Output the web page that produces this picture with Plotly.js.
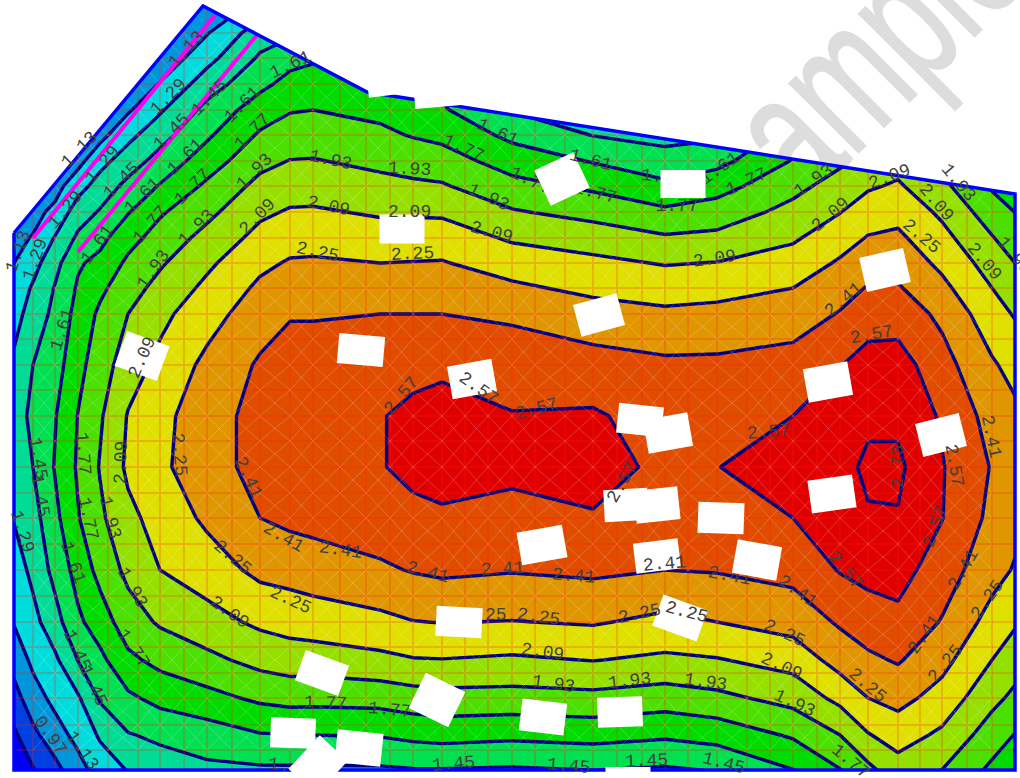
<!DOCTYPE html>
<html>
<head>
<meta charset="utf-8">
<script src="https://cdn.plot.ly/plotly-3.0.1.min.js"></script>
<style>html,body{margin:0;padding:0;background:#fff}#chart{width:1020px;height:778px}</style>
</head>
<body>
<div id="chart"></div>
<script>
// Grid of the field: position of each column and row of the sampled values
var gridX = [14,33,55,78,100,128,160,207,260,290,313,380,413,442,512,593,665,717,793,840,868,898,942,992,1020];
var gridY = [0,33,58,84,110,135,161,186,212,238,263,288,314,365,416,467,518,570,622,660,698,735,775];
// Field values, one list per column
var col014 = [.9,.9,.9,.9,.9,.9,.92,.97,1.04,1.09,1.13,1.18,1.23,1.32,1.41,1.40,1.30,1.21,1.14,1.03,.91,.78,.65];
var col033 = [.9,.9,.9,.9,.9,.9,.95,1.03,1.08,1.14,1.23,1.31,1.36,1.45,1.47,1.45,1.39,1.33,1.24,1.165,1.06,.93,.78];
var col055 = [.9,.9,.9,.9,.9,.9,.97,1.07,1.17,1.30,1.40,1.46,1.49,1.54,1.60,1.62,1.57,1.50,1.39,1.26,1.175,1.06,.90];
var col078 = [.9,.9,.9,.9,.9,.98,1.08,1.23,1.37,1.48,1.59,1.63,1.665,1.725,1.775,1.79,1.76,1.67,1.58,1.455,1.27,1.18,1.05];
var col100 = [.9,.9,.9,.9,.95,1.08,1.24,1.355,1.465,1.565,1.655,1.735,1.80,1.85,1.91,1.94,1.90,1.82,1.69,1.57,1.47,1.31,1.19];
var col128 = [.9,.9,.9,.98,1.11,1.245,1.37,1.495,1.60,1.715,1.80,1.865,1.93,2.015,2.10,2.12,2.05,1.97,1.855,1.735,1.58,1.44,1.28];
var col160 = [.9,.9,1.01,1.14,1.27,1.39,1.51,1.62,1.75,1.835,1.91,1.98,2.05,2.13,2.22,2.23,2.15,2.09,1.95,1.815,1.66,1.48,1.36];
var col207 = [.97,1.12,1.24,1.37,1.50,1.585,1.69,1.80,1.89,1.98,2.06,2.125,2.185,2.29,2.31,2.31,2.28,2.17,2.03,1.89,1.72,1.53,1.40];
var col260 = [1.15,1.38,1.47,1.57,1.69,1.79,1.885,1.975,2.06,2.14,2.215,2.28,2.34,2.43,2.49,2.49,2.41,2.29,2.12,1.98,1.80,1.60,1.40];
var col290 = [1.3,1.42,1.56,1.66,1.76,1.84,1.935,2.02,2.105,2.19,2.265,2.33,2.40,2.47,2.52,2.52,2.445,2.31,2.15,2.01,1.825,1.605,1.40];
var col313 = [1.4,1.5,1.59,1.68,1.77,1.85,1.94,2.02,2.11,2.195,2.27,2.335,2.40,2.47,2.54,2.52,2.46,2.33,2.17,2.01,1.82,1.61,1.40];
var col380 = [1.45,1.55,1.6,1.67,1.735,1.80,1.89,1.98,2.07,2.165,2.25,2.33,2.41,2.47,2.565,2.565,2.50,2.385,2.21,2.05,1.83,1.62,1.40];
var col413 = [1.42,1.5,1.55,1.61,1.68,1.76,1.86,1.96,2.07,2.17,2.255,2.33,2.41,2.545,2.59,2.59,2.55,2.42,2.245,2.08,1.86,1.65,1.41];
var col442 = [1.4,1.45,1.5,1.56,1.63,1.73,1.84,1.945,2.065,2.17,2.26,2.33,2.41,2.555,2.60,2.61,2.555,2.44,2.255,2.085,1.875,1.665,1.41];
var col512 = [1.2,1.25,1.3,1.36,1.44,1.57,1.70,1.82,1.945,2.07,2.175,2.28,2.39,2.48,2.58,2.60,2.53,2.42,2.245,2.065,1.87,1.645,1.40];
var col593 = [1.1,1.15,1.2,1.26,1.33,1.445,1.60,1.74,1.875,2.02,2.125,2.21,2.32,2.47,2.59,2.64,2.555,2.44,2.265,2.095,1.885,1.665,1.42];
var col665 = [1.1,1.15,1.2,1.27,1.34,1.41,1.50,1.65,1.80,1.95,2.08,2.18,2.28,2.44,2.50,2.53,2.49,2.41,2.21,2.06,1.85,1.635,1.40];
var col717 = [1.2,1.25,1.3,1.34,1.38,1.42,1.56,1.71,1.84,1.97,2.095,2.19,2.30,2.44,2.52,2.565,2.50,2.42,2.25,2.08,1.89,1.67,1.43];
var col793 = [1.4,1.45,1.5,1.55,1.6,1.68,1.78,1.88,1.98,2.07,2.155,2.25,2.335,2.47,2.57,2.68,2.57,2.46,2.315,2.15,1.985,1.79,1.58];
var col840 = [1.5,1.55,1.6,1.65,1.7,1.8,1.9,2.0,2.085,2.18,2.27,2.35,2.42,2.565,2.64,2.68,2.66,2.58,2.43,2.315,2.135,1.93,1.74];
var col868 = [1.55,1.6,1.65,1.7,1.75,1.85,1.97,2.07,2.17,2.26,2.34,2.42,2.50,2.63,2.70,2.76,2.715,2.62,2.49,2.38,2.25,2.08,1.86];
var col898 = [1.6,1.7,1.75,1.8,1.88,1.95,2.03,2.11,2.2,2.28,2.35,2.425,2.50,2.64,2.70,2.76,2.72,2.63,2.53,2.425,2.30,2.16,2.0];
var col942 = [1.55,1.6,1.65,1.7,1.75,1.82,1.89,1.97,2.06,2.14,2.215,2.29,2.375,2.47,2.55,2.58,2.575,2.49,2.40,2.30,2.19,2.06,1.91];
var col992 = [1.4,1.45,1.5,1.55,1.6,1.65,1.7,1.75,1.85,1.94,2.02,2.09,2.155,2.27,2.35,2.40,2.37,2.31,2.19,2.09,1.975,1.85,1.72];
var col1020 = [1.4,1.42,1.45,1.48,1.5,1.53,1.57,1.67,1.75,1.83,1.91,1.99,2.06,2.18,2.27,2.30,2.28,2.22,2.09,1.985,1.875,1.745,1.6];
var zColumns = [col014,col033,col055,col078,col100,col128,col160,col207,col260,col290,col313,col380,col413,col442,col512,col593,col665,col717,col793,col840,col868,col898,col942,col992,col1020];

// Band colours, lowest band first
var bandColors = ['#0000f0','#0040e0','#0096dc','#00dcdc','#00dc96','#00e050','#00dc00','#4ce000','#96e000','#e0e000','#e09600','#e04c00','#e00000','#e00000'];
var levelStart = 0.81, levelEnd = 2.73, levelStep = 0.16;

// Outline of the slab and the two highlighted strips
var outlineX = [14,203,367,1015,1015,14,14];
var outlineY = [233,6,92,194,770,770,233];
var stripAX = [215,33], stripAY = [15,238];
var stripBX = [257,78], stripBY = [35,252];

// Mesh lines
var meshX = [33,55,78,108,138,160,184,207,232,260,290,313,340,366,390,413,442,465,488,512,535,565,593,617,642,665,688,717,747,770,793,817,840,868,898,920,942,967,992];
var meshY = [33,58,84,110,135,161,186,212,238,263,288,314,339,365,390,416,441,467,493,518,544,570,596,622,647,673,698,725,750];

// White label patches: centre, width, height, rotation
var boxX = [562,683,402,390,437,885,599,142,361,472,828,640,668,941,832,626,657,721,757,542,657,680,459,322,437,293,359,318,543,620,628];
var boxY = [179,184,229,80,92,270,315,356,350,379,382,420,433,435,494,505,505,518,560,545,556,618,622,673,700,733,748,765,717,712,782];
var boxW = [43,45,45,46,46,45,45,45,46,45,45,45,45,45,45,44,44,46,45,46,45,47,46,46,44,45,46,46,45,45,45];
var boxH = [39,28,29,30,30,35,33,37,30,33,34,30,34,34,33,32,33,31,34,33,30,33,30,32,39,30,33,38,32,30,30];
var boxA = [-25,0,0,-7,-5,-13,-15,20,5,-10,-10,6,-10,-14,-8,-3,-6,2,10,-10,-7,20,3,20,26,2,6,-47,7,-2,0];

// Contour value labels lying on top of everything
var labelText = ['1.13','1.29','1.45','1.45','1.61','1.61','1.13','1.29','1.45','1.61','1.77','1.93','1.61','1.77','1.29','2.09','1.93','1.77','1.61','1.13','1.29','1.61','1.93','2.09','1.45','1.45','1.77','1.77','1.93','2.09','2.25','2.41','1.29','1.61','1.93','2.25','2.09','1.77','1.45','1.45','0.97','1.13','1.77','2.25','2.41','2.41','2.41','2.41','2.41','2.41','2.41','2.25','2.25','2.09','1.93','1.93','1.45','1.77','2.25','2.41','2.25','2.25','2.41','2.57','2.57','2.73','2.57','2.41','2.57','1.93','2.09','2.09','2.25','2.09','1.93','2.41','2.57','2.09','2.09','1.93','1.77','1.61','1.77','1.61','1.93','1.93','1.93','2.09','2.09','2.25','2.09','2.25','2.25','2.25','2.09','1.93','1.93','1.45','1.45','1.45','2.57','2.57','2.57','2.57'];
var labelX = [186,168,209,171,242,290,79,102,121,185,252,254,142,192,65,257,196,150,97,18,35,62,153,142,38,40,83,88,110,121,179,248,22,73,132,232,229,133,77,93,50,82,325,290,283,340,427,502,573,664,797,686,784,781,705,794,723,850,867,924,945,987,963,845,768,898,954,991,935,958,889,936,921,984,1014,843,871,714,830,813,746,497,463,590,409,488,330,409,491,412,328,317,538,639,542,553,629,453,568,646,401,478,536,622];
var labelY = [50,97,98,132,105,65,150,165,181,157,132,172,196,187,210,217,228,225,245,252,260,330,270,358,458,495,453,518,517,463,454,477,531,562,587,557,612,648,650,685,735,750,703,600,537,550,572,569,576,564,591,612,633,666,682,703,763,761,685,635,664,600,570,570,432,467,465,436,527,182,177,202,236,261,255,300,335,259,215,181,182,132,148,160,169,197,160,212,232,254,206,252,617,614,652,684,681,764,766,761,396,388,409,483];
var labelA = [-47,-45,-45,-45,-45,-25,-45,-50,-45,-45,-45,-45,-45,-45,-50,-45,-45,-50,-55,-70,-70,-72,-55,-65,80,80,85,78,75,-88,85,65,72,70,60,40,35,55,65,65,55,55,2,25,30,8,15,-3,5,-5,35,15,25,25,8,25,15,40,40,-55,-50,-55,-60,50,-5,-90,80,78,-70,50,-20,50,40,50,50,-40,-10,-8,-40,-35,-25,25,25,15,3,25,12,0,15,-3,12,12,8,-12,8,8,-7,-5,5,-2,-50,35,-15,-60];
// Contour value labels partly hidden by a white patch
var coveredText = ['1.77','1.77','1.61','1.77','1.61','2.25','2.41','1.77','1.45'];
var coveredX = [532,596,663,677,718,485,730,390,290];
var coveredY = [178,190,174,203,166,612,573,707,763];
var coveredA = [25,15,5,0,-35,0,10,5,5];

// Watermark
var watermarkText = 'sample';

var cosd = function(a){return Math.cos(a*Math.PI/180);};
var sind = function(a){return Math.sin(a*Math.PI/180);};

var z = gridY.map(function(_, r){ return zColumns.map(function(c){ return c[r]; }); });
var scale = bandColors.map(function(c,i){ return [i/(bandColors.length-1), c]; });

var mx=[], my=[], dx=[], dy=[];
meshX.forEach(function(x){ mx.push(x,x,null); my.push(0,778,null); });
meshY.forEach(function(y){ mx.push(0,1020,null); my.push(y,y,null); });
for (var i=0;i<meshX.length-1;i++){
  for (var j=0;j<meshY.length-1;j++){
    dx.push(meshX[i],meshX[i+1],null,meshX[i+1],meshX[i],null);
    dy.push(meshY[j],meshY[j+1],null,meshY[j],meshY[j+1],null);
  }
}

var traces = [
  {type:'contour', x:gridX, y:gridY, z:z, autocontour:false,
   contours:{start:levelStart,end:levelEnd,size:levelStep,coloring:'fill',showlines:true},
   colorscale:scale, showscale:false, hoverinfo:'skip',
   line:{color:'#000080',width:3.4,smoothing:0}},
  {type:'scatter',mode:'lines',x:mx,y:my,hoverinfo:'skip',line:{color:'rgba(255,30,0,0.45)',width:1}},
  {type:'scatter',mode:'lines',x:dx,y:dy,hoverinfo:'skip',line:{color:'rgba(255,255,255,0.2)',width:1}},
  {type:'scatter',mode:'lines',x:stripAX,y:stripAY,hoverinfo:'skip',line:{color:'#ff00ee',width:4}},
  {type:'scatter',mode:'lines',x:stripBX,y:stripBY,hoverinfo:'skip',line:{color:'#ff00ee',width:4}},
  {type:'scatter',mode:'lines',x:outlineX,y:outlineY,hoverinfo:'skip',line:{color:'#0000ff',width:3.5}}
];

var labelFont = {family:'Liberation Mono',size:18,color:'#404040'};
var shapes = [{type:'rect',xref:'x',yref:'y',layer:'below',x0:741,x1:941,y0:-46,y1:154,
  line:{width:0},fillcolor:'rgba(0,0,0,0)',
  label:{text:watermarkText,textangle:-45,textposition:'middle center',
    font:{family:'Liberation Sans',size:185,color:'#dddddd'}}}];
coveredText.forEach(function(t,i){
  shapes.push({type:'line',xref:'x',yref:'y',layer:'above',
    x0:coveredX[i]-1,x1:coveredX[i]+1,y0:coveredY[i],y1:coveredY[i],line:{width:0},
    label:{text:t,textangle:coveredA[i],textposition:'middle',xanchor:'center',yanchor:'middle',font:labelFont}});
});
boxX.forEach(function(cx,i){
  var w=boxW[i]/2,h=boxH[i]/2,c=cosd(boxA[i]),s=sind(boxA[i]);
  var pts=[[-w,-h],[w,-h],[w,h],[-w,h]].map(function(p){return (cx+p[0]*c-p[1]*s)+','+(boxY[i]+p[0]*s+p[1]*c);});
  shapes.push({type:'path',xref:'x',yref:'y',layer:'above',path:'M'+pts.join('L')+'Z',fillcolor:'#ffffff',line:{width:0}});
});

var annotations = labelText.map(function(t,i){
  return {x:labelX[i],y:labelY[i],xref:'x',yref:'y',text:t,textangle:labelA[i],showarrow:false,font:labelFont};
});

var layout = {
  width:1020,height:778,autosize:false,margin:{l:0,r:0,t:0,b:0},
  paper_bgcolor:'#ffffff',plot_bgcolor:'#ffffff',showlegend:false,
  xaxis:{range:[0,1020],visible:false,fixedrange:true},
  yaxis:{range:[778,0],visible:false,fixedrange:true},
  shapes:shapes,annotations:annotations
};

Plotly.newPlot('chart',traces,layout,{displayModeBar:false,staticPlot:true}).then(function(gd){
  var svg = gd.querySelector('.main-svg');
  var ns = 'http://www.w3.org/2000/svg';
  var cp = document.createElementNS(ns,'clipPath'); cp.setAttribute('id','slabOutline');
  var pg = document.createElementNS(ns,'polygon');
  pg.setAttribute('points',outlineX.map(function(x,i){return x+','+outlineY[i];}).join(' '));
  cp.appendChild(pg);
  svg.querySelector('defs').appendChild(cp);
  var targets = [gd.querySelector('.contourlayer')];
  var lines = gd.querySelectorAll('.scatterlayer .trace');
  targets.push(lines[0],lines[1]);
  targets.forEach(function(el){ if(el) el.setAttribute('clip-path','url(#slabOutline)'); });
  // narrow the watermark lettering to the condensed face of the reference
  Array.prototype.forEach.call(gd.querySelectorAll('text'),function(t){
    if(t.textContent===watermarkText){
      var x=t.getAttribute('x'),y=t.getAttribute('y');
      t.setAttribute('transform',(t.getAttribute('transform')||'')+' translate('+x+' '+y+') scale(0.64 1) translate('+(-x)+' '+(-y)+')');
      t.style.stroke='#dddddd'; t.style.strokeWidth='2px';
    }
  });
});
</script>
</body>
</html>
